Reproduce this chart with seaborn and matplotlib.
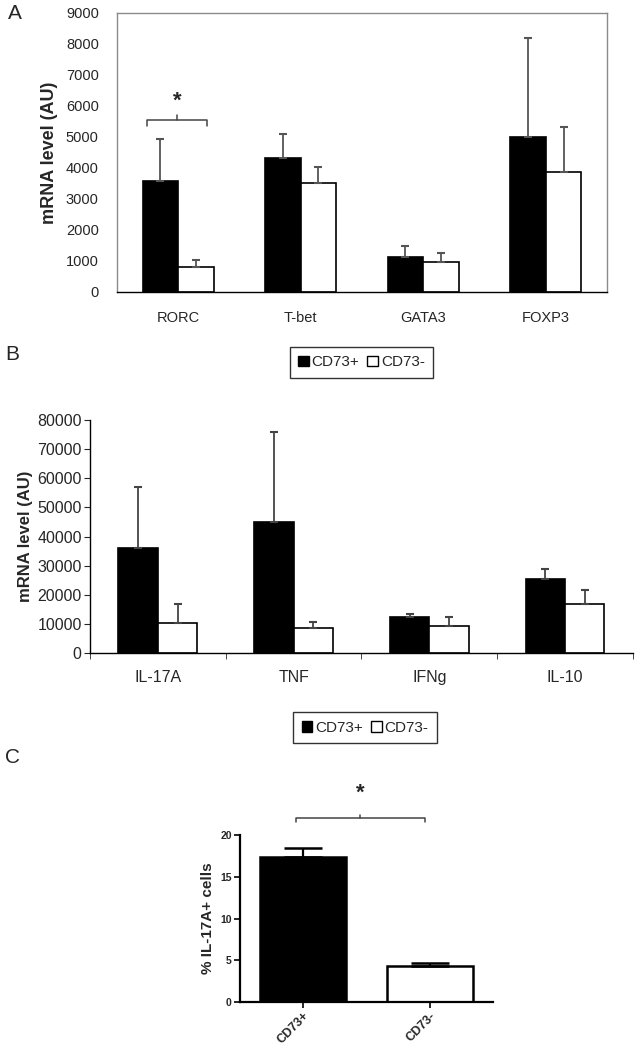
import numpy as np
import pandas as pd
import matplotlib
matplotlib.use("Agg")
import matplotlib.pyplot as plt
import seaborn as sns
from matplotlib.patches import Patch

# Panel A data
genes_a = ["RORC", "T-bet", "GATA3", "FOXP3"]
a_pos = [3580, 4320, 1130, 5000]
a_pos_err = [1355, 780, 360, 3200]
a_neg = [810, 3520, 970, 3870]
a_neg_err = [220, 510, 280, 1450]

# Panel B data
genes_b = ["IL-17A", "TNF", "IFNg", "IL-10"]
b_pos = [36000, 45000, 12400, 25400]
b_pos_err = [21000, 31000, 1000, 3500]
b_neg = [10300, 8600, 9300, 16800]
b_neg_err = [6500, 2000, 3100, 4800]

# Panel C data
groups_c = ["CD73+", "CD73-"]
c_vals = [17.4, 4.3]
c_err = [1.0, 0.4]

sns.set_style("white")
plt.rcParams['font.family'] = ['Liberation Sans', 'DejaVu Sans']

fig = plt.figure(figsize=(6.35, 10.5), dpi=100)
pal = {"CD73+": "black", "CD73-": "white"}


def grouped(ax, cats, pos, pos_err, neg, neg_err, err_color, capsize):
    df = pd.DataFrame({
        "gene": cats * 2,
        "val": pos + neg,
        "grp": ["CD73+"] * len(cats) + ["CD73-"] * len(cats),
    })
    sns.barplot(data=df, x="gene", y="val", hue="grp", palette=pal,
                errorbar=None, width=0.58, edgecolor="black", linewidth=1.2,
                ax=ax, legend=False)
    errs = pos_err + neg_err
    vals = pos + neg
    for p, v, e in zip(ax.patches, vals, errs):
        xc = p.get_x() + p.get_width() / 2
        ax.errorbar(xc, v, yerr=[[0], [e]], fmt="none", ecolor=err_color,
                    elinewidth=1.3, capsize=capsize, capthick=1.5, zorder=1)
    ax.set_xlim(-0.5, len(cats) - 0.5)
    ax.set_xlabel("")


# ---- Panel A
axA = fig.add_axes([0.184, 0.722, 0.772, 0.2657])
grouped(axA, genes_a, a_pos, a_pos_err, a_neg, a_neg_err, "#555555", 3)
axA.set_ylim(0, 9000)
axA.set_yticks(np.arange(0, 9001, 1000))
axA.tick_params(axis="y", labelsize=10.5, length=0, pad=13)
axA.tick_params(axis="x", which="major", labelsize=10.5, length=0, pad=14)
axA.set_xticks([0.5, 1.5, 2.5, 3.5], minor=True)
axA.tick_params(axis="x", which="minor", length=3, direction="out", color="black")
for s in axA.spines.values():
    s.set_color("#8a8a8a")
    s.set_linewidth(1.0)
axA.spines["bottom"].set_color("black")
axA.set_ylabel("mRNA level (AU)", fontsize=13, fontweight="bold", labelpad=6)
# significance bracket
axA.plot([-0.25, -0.25, 0.235, 0.235], [5350, 5560, 5560, 5350], color="#444444", lw=1.1, clip_on=False)
axA.plot([-0.007, -0.007], [5560, 5700], color="#444444", lw=1.1)
axA.text(-0.007, 6150, "*", ha="center", va="center", fontsize=16, fontweight="bold")

handles = [Patch(facecolor="black", edgecolor="black", label="CD73+"),
           Patch(facecolor="white", edgecolor="black", label="CD73-")]
fig.legend(handles=handles, loc="center", bbox_to_anchor=(0.569, 0.655), ncol=2,
           frameon=True, fancybox=False, edgecolor="black", fontsize=11,
           handlelength=0.7, handleheight=0.7, handletextpad=0.2, columnspacing=0.5,
           borderpad=0.55)

fig.text(0.012, 0.987, "A", fontsize=15, va="center")

# ---- Panel B
axB = fig.add_axes([0.1417, 0.378, 0.855, 0.222])
grouped(axB, genes_b, b_pos, b_pos_err, b_neg, b_neg_err, "#444444", 3)
axB.set_ylim(0, 80000)
axB.set_yticks(np.arange(0, 80001, 10000))
axB.tick_params(axis="y", labelsize=11.5, length=4, direction="out", pad=2, left=True)
axB.tick_params(axis="x", which="major", labelsize=11.5, length=0, pad=12)
axB.set_xticks([-0.5, 0.5, 1.5, 2.5, 3.5], minor=True)
axB.tick_params(axis="x", which="minor", length=4, direction="out", bottom=True)
sns.despine(ax=axB)
for s in ["left", "bottom"]:
    axB.spines[s].set_color("black")
    axB.spines[s].set_linewidth(1.0)
axB.set_ylabel("mRNA level (AU)", fontsize=12, fontweight="bold", labelpad=3)

fig.legend(handles=handles, loc="center", bbox_to_anchor=(0.575, 0.307), ncol=2,
           frameon=True, fancybox=False, edgecolor="black", fontsize=11,
           handlelength=0.7, handleheight=0.7, handletextpad=0.2, columnspacing=0.5,
           borderpad=0.55)

fig.text(0.008, 0.662, "B", fontsize=15, va="center")

# ---- Panel C
axC = fig.add_axes([0.378, 0.0457, 0.398, 0.159])
dfc = pd.DataFrame({"grp": groups_c, "val": c_vals})
sns.barplot(data=dfc, x="grp", y="val", hue="grp", palette=pal, errorbar=None,
            width=0.68, edgecolor="black", linewidth=1.8, ax=axC, legend=False)
for p, v, e in zip(axC.patches, c_vals, c_err):
    xc = p.get_x() + p.get_width() / 2
    axC.errorbar(xc, v, yerr=[[0], [e]], fmt="none", ecolor="black",
                 elinewidth=1.6, capsize=14, capthick=1.8, zorder=1)
axC.set_xlim(-0.5, 1.5)
axC.set_ylim(0, 20)
axC.set_yticks([0, 5, 10, 15, 20])
sns.despine(ax=axC)
for s in ["left", "bottom"]:
    axC.spines[s].set_color("black")
    axC.spines[s].set_linewidth(1.6)
axC.tick_params(axis="y", labelsize=7.5, length=4, width=1.4, direction="out", left=True, pad=2)
axC.tick_params(axis="x", labelsize=9, length=4, width=1.4, direction="out", bottom=True, pad=2)
for t in axC.get_yticklabels():
    t.set_fontweight("bold")
for t in axC.get_xticklabels():
    t.set_fontweight("bold")
    t.set_rotation(45)
    t.set_ha("right")
    t.set_rotation_mode("anchor")
axC.set_xlabel("")
axC.set_ylabel("% IL-17A+ cells", fontsize=11, fontweight="bold", labelpad=4)
axC.plot([-0.06, -0.06, 0.96, 0.96], [21.6, 22.0, 22.0, 21.6], color="#444444", lw=1.1, clip_on=False)
axC.plot([0.45, 0.45], [22.0, 22.4], color="#444444", lw=1.1, clip_on=False)
axC.text(0.45, 25.0, "*", ha="center", va="center", fontsize=16, fontweight="bold")

fig.text(0.008, 0.279, "C", fontsize=15, va="center")

plt.savefig("out.png", dpi=100)
